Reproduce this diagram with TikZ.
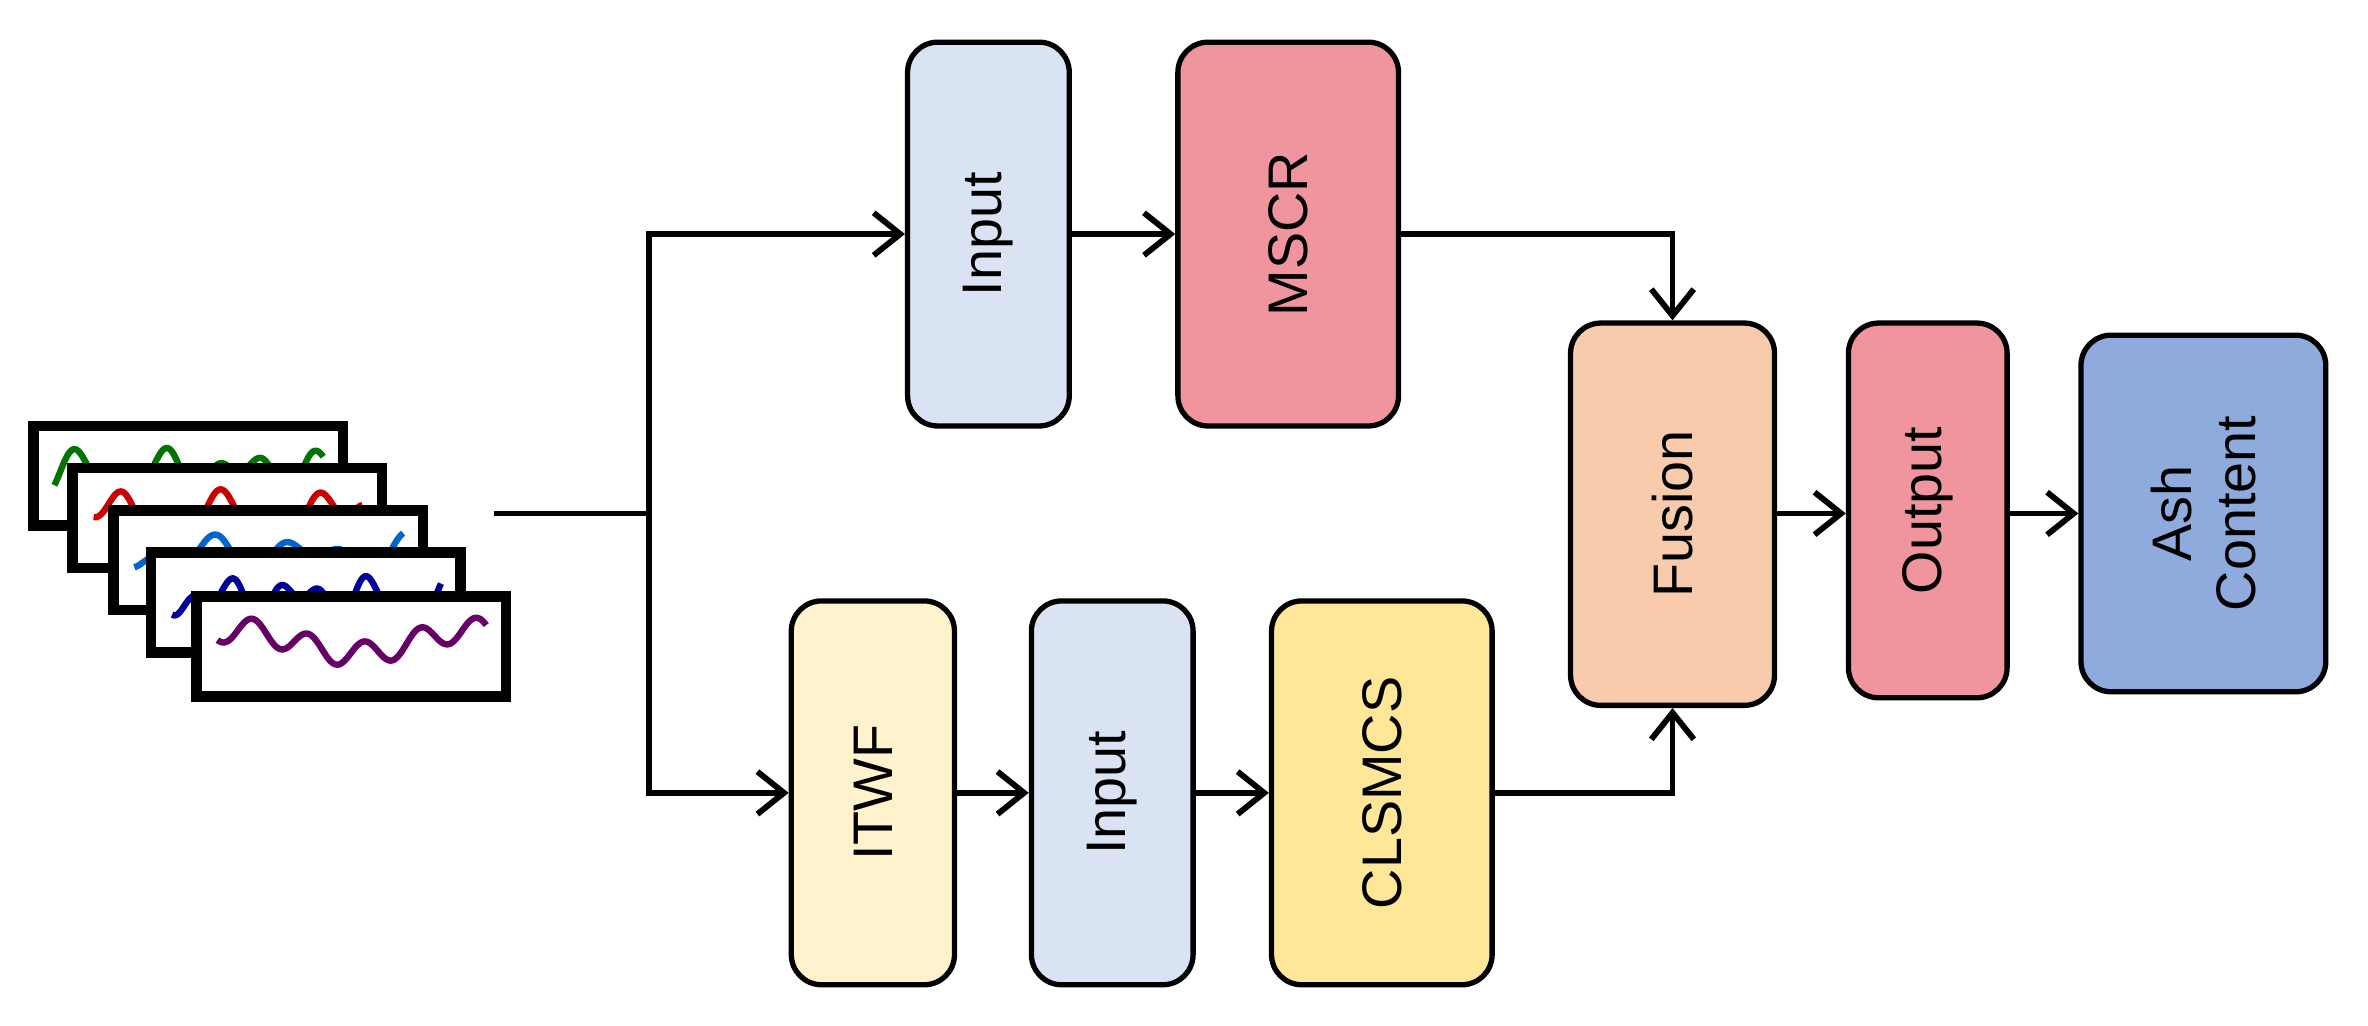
\documentclass[tikz,border=0pt]{standalone}
\usepackage{fontspec}
\setmainfont{Liberation Sans}
\usetikzlibrary{arrows.meta}
\definecolor{cin}{HTML}{DAE3F3}
\definecolor{cred}{HTML}{F0959D}
\definecolor{cfus}{HTML}{F8CBAD}
\definecolor{cash}{HTML}{8FAADC}
\definecolor{citw}{HTML}{FFF2CC}
\definecolor{ccls}{HTML}{FFE699}
\begin{document}
\begin{tikzpicture}[x=0.01cm,y=-0.01cm,
  box/.style={draw=black,line width=1pt,rounded corners=0.2cm,inner sep=0pt},
  lbl/.style={rotate=90,font=\fontsize{10.5}{12}\selectfont,align=center},
  arr/.style={line width=1.1pt,-{Straight Barb[length=5pt,width=8pt]}},
  ln/.style={line width=1.1pt},
  panel/.style={draw=black,fill=white,line width=2pt}]
\useasboundingbox (0,0) rectangle (1568,679);
% signal panels
\foreach \l/\t/\c/\f/\g in {22/282/green!45!black/9/2.3, 48/310/red!80!black/8/3.1, 75/338/blue!50!cyan!80!black/7/1.7, 100/366/blue!60!black/10/2.7, 130/395/violet!80!black/6/3.7}{
  \draw[panel] (\l,\t) rectangle ++(205,66);
  \begin{scope}
  \clip (\l,\t) rectangle ++(205,66);
  \draw[\c,line width=1.2pt,domain={\l+14}:{\l+192},samples=160,smooth]
     plot (\x,{\t+30-16*sin(\x*\f)*sin(\x*\g)});
  \end{scope}
}
% nodes
\node[box,fill=cin,minimum width=1.07cm,minimum height=2.54cm] (in1) at (654.5,155) {};
\node[lbl] at (in1) {Input};
\node[box,fill=cred,minimum width=1.46cm,minimum height=2.54cm] (mscr) at (853,155) {};
\node[lbl] at (mscr) {MSCR};
\node[box,fill=citw,minimum width=1.08cm,minimum height=2.54cm] (itwf) at (578,525) {};
\node[lbl] at (itwf) {ITWF};
\node[box,fill=cin,minimum width=1.07cm,minimum height=2.54cm] (in2) at (736.5,525) {};
\node[lbl] at (in2) {Input};
\node[box,fill=ccls,minimum width=1.46cm,minimum height=2.54cm] (cls) at (915,525) {};
\node[lbl] at (cls) {CLSMCS};
\node[box,fill=cfus,minimum width=1.35cm,minimum height=2.53cm] (fus) at (1107.5,340.5) {};
\node[lbl] at (fus) {Fusion};
\node[box,fill=cred,minimum width=1.05cm,minimum height=2.48cm] (out) at (1276.5,338) {};
\node[lbl] at (out) {Output};
\node[box,fill=cash,minimum width=1.62cm,minimum height=2.36cm] (ash) at (1459,340) {};
\node[lbl] at (ash) {Ash\\Content};
% connectors
\coordinate (s) at (327,340);
\coordinate (j) at (430,340);
\draw[ln] (s) -- (j);
\draw[arr] (j) |- (in1.west);
\draw[arr] (j) |- (itwf.west);
\draw[arr] (in1) -- (mscr);
\draw[arr] (itwf) -- (in2);
\draw[arr] (in2) -- (cls);
\draw[arr] (mscr.east) -| (fus.north);
\draw[arr] (cls.east) -| (fus.south);
\draw[arr] (fus.east |- 0,340) -- (out.west |- 0,340);
\draw[arr] (out.east |- 0,340) -- (ash.west |- 0,340);
\end{tikzpicture}
\end{document}
